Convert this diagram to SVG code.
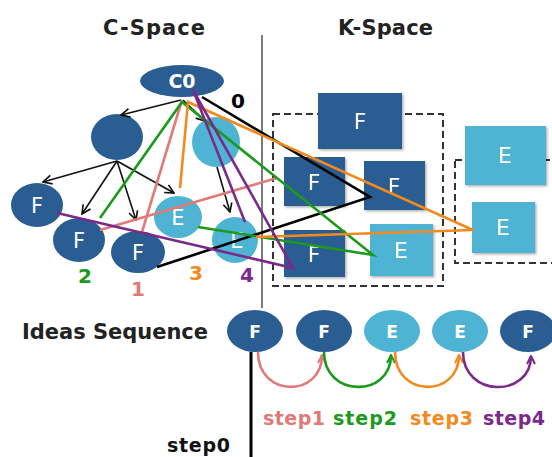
<svg xmlns="http://www.w3.org/2000/svg" width="552" height="457" viewBox="0 0 552 457">
<defs>
<style>
.dk{fill:#2a5d91}
.lt{fill:#4fb3d3}
.nt{fill:#fff;font-family:"DejaVu Sans",sans-serif;font-size:21px;text-anchor:middle}
.bt{fill:#fff;font-family:"DejaVu Sans",sans-serif;font-size:22px;text-anchor:middle}
.st{fill:#fff;font-family:"DejaVu Sans",sans-serif;font-size:17px;font-weight:bold;text-anchor:middle}
.ttl{fill:#222;font-family:"DejaVu Sans",sans-serif;font-size:21px;font-weight:bold}
.num{font-family:"DejaVu Sans",sans-serif;font-size:20px;font-weight:bold;text-anchor:middle}
.arr{stroke:#111;stroke-width:1.6;fill:none;marker-end:url(#ah)}
.pl{fill:none;stroke-width:2.6;stroke-linejoin:miter}
.dash{fill:none;stroke:#333;stroke-width:2;stroke-dasharray:7 4}
.arc{fill:none;stroke-width:2.6}
</style>
<marker id="ah" viewBox="0 0 10 10" refX="9" refY="5" markerWidth="11" markerHeight="11" markerUnits="userSpaceOnUse" orient="auto"><path d="M1,1 L9,5 L1,9" fill="none" stroke="#111" stroke-width="1.5"/></marker>
<marker id="aPk" viewBox="0 0 10 10" refX="9" refY="5" markerWidth="10" markerHeight="10" markerUnits="userSpaceOnUse" orient="auto"><path d="M1,1 L9,5 L1,9" fill="none" stroke="#e07a78" stroke-width="2"/></marker>
<marker id="aGr" viewBox="0 0 10 10" refX="9" refY="5" markerWidth="10" markerHeight="10" markerUnits="userSpaceOnUse" orient="auto"><path d="M1,1 L9,5 L1,9" fill="none" stroke="#1c9a1c" stroke-width="2"/></marker>
<marker id="aOr" viewBox="0 0 10 10" refX="9" refY="5" markerWidth="10" markerHeight="10" markerUnits="userSpaceOnUse" orient="auto"><path d="M1,1 L9,5 L1,9" fill="none" stroke="#f28a1e" stroke-width="2"/></marker>
<marker id="aPu" viewBox="0 0 10 10" refX="9" refY="5" markerWidth="10" markerHeight="10" markerUnits="userSpaceOnUse" orient="auto"><path d="M1,1 L9,5 L1,9" fill="none" stroke="#7b2a8c" stroke-width="2"/></marker>
<filter id="sh" x="-10%" y="-10%" width="130%" height="130%"><feDropShadow dx="1.5" dy="1.5" stdDeviation="1.2" flood-color="#000" flood-opacity="0.3"/></filter>
</defs>
<rect width="552" height="457" fill="#fff"/>

<g id="titles">
<text class="ttl" x="103" y="35" textLength="102">C-Space</text>
<text class="ttl" x="338" y="35" textLength="95">K-Space</text>
</g>
<line x1="262" y1="35" x2="262" y2="308" stroke="#333" stroke-width="1.3"/>

<g id="kspace-frames">
<rect class="dash" x="273" y="114" width="170" height="172"/>
<rect class="dash" x="455" y="160" width="110" height="103"/>
</g>
<g id="k-F-top" filter="url(#sh)"><rect class="dk" x="318" y="93" width="84" height="56"/><text class="bt" x="360" y="129">F</text></g>
<g id="k-F-midL" filter="url(#sh)"><rect class="dk" x="284" y="157" width="61" height="49"/><text class="bt" x="314" y="190">F</text></g>
<g id="k-F-midR" filter="url(#sh)"><rect class="dk" x="364" y="161" width="61" height="49"/><text class="bt" x="394" y="194">F</text></g>
<g id="k-F-bot" filter="url(#sh)"><rect class="dk" x="284" y="230" width="61" height="47"/><text class="bt" x="314" y="262">F</text></g>
<g id="k-E-bot" filter="url(#sh)"><rect class="lt" x="370" y="224" width="63" height="52"/><text class="bt" x="401" y="258">E</text></g>
<g id="k-E-top" filter="url(#sh)"><rect class="lt" x="465" y="126" width="81" height="59"/><text class="bt" x="505" y="163">E</text></g>
<g id="k-E-mid" filter="url(#sh)"><rect class="lt" x="472" y="202" width="63" height="51"/><text class="bt" x="503" y="235">E</text></g>

<g id="c0"><ellipse class="dk" cx="182" cy="81" rx="42" ry="16"/><text class="st" x="182" y="88" style="font-size:19px">C0</text></g>
<g id="nA"><ellipse class="dk" cx="117" cy="137" rx="26" ry="23"/></g>
<g id="nB"><ellipse class="lt" cx="216" cy="142" rx="24" ry="25"/></g>
<g id="nFa"><ellipse class="dk" cx="37" cy="205" rx="26" ry="22"/><text class="nt" x="37" y="213">F</text></g>
<g id="nFb"><ellipse class="dk" cx="79" cy="240" rx="26" ry="22"/><text class="nt" x="79" y="248">F</text></g>
<g id="nFc"><ellipse class="dk" cx="138" cy="252" rx="27" ry="21"/><text class="nt" x="138" y="260">F</text></g>
<g id="nEa"><ellipse class="lt" cx="178" cy="217" rx="24" ry="21"/><text class="nt" x="178" y="225">E</text></g>
<g id="nEb"><ellipse class="lt" cx="235" cy="240" rx="23" ry="23"/><text class="nt" x="237" y="248">E</text></g>

<g id="connectors">
<path class="arr" d="M181,100 L121,115"/>
<path class="arr" d="M183,100 L205,121"/>
<path class="arr" d="M117,161 L43,182"/>
<path class="arr" d="M117,161 L82,214"/>
<path class="arr" d="M117,161 L136,220"/>
<path class="arr" d="M117,161 L174,193"/>
<path class="arr" d="M217,167 L230,212"/>
<path class="pl" stroke="#000" d="M202,97 L370,197 L157,267"/>
<path class="pl" stroke="#e07a78" d="M142,232 L182,100"/>
<path class="pl" stroke="#e07a78" d="M100,230 L277,178"/>
<path class="pl" stroke="#1c9a1c" d="M100,218 L182,102 L373,255 L198,227"/>
<path class="pl" stroke="#f28a1e" d="M180,188 L188,102 L473,230 L256,237"/>
<path class="pl" stroke="#7b2a8c" d="M245,222 L193,90 L293,268 L57,213"/>
<path class="arc" stroke="#e07a78" marker-end="url(#aPk)" d="M258,352 C258,398 322,398 322,355"/>
<path class="arc" stroke="#1c9a1c" marker-end="url(#aGr)" d="M324,352 C324,398 391,398 391,355"/>
<path class="arc" stroke="#f28a1e" marker-end="url(#aOr)" d="M395,352 C395,398 459,398 459,355"/>
<path class="arc" stroke="#7b2a8c" marker-end="url(#aPu)" d="M463,352 C463,398 531,398 531,356"/>
</g>

<g id="numbers">
<text class="num" x="238" y="108" fill="#000">0</text>
<text class="num" x="85" y="283" fill="#1c9a1c">2</text>
<text class="num" x="138" y="296" fill="#e07a78">1</text>
<text class="num" x="196" y="280" fill="#f28a1e">3</text>
<text class="num" x="247" y="282" fill="#7b2a8c">4</text>
</g>

<text class="ttl" x="22" y="339" textLength="186">Ideas Sequence</text>
<g id="s1"><ellipse class="dk" cx="255" cy="331" rx="28" ry="21"/><text class="st" x="255" y="338">F</text></g>
<g id="s2"><ellipse class="dk" cx="324" cy="331" rx="28" ry="21"/><text class="st" x="324" y="338">F</text></g>
<g id="s3"><ellipse class="lt" cx="392" cy="331" rx="28" ry="21"/><text class="st" x="392" y="338">E</text></g>
<g id="s4"><ellipse class="lt" cx="460" cy="331" rx="28" ry="21"/><text class="st" x="460" y="338">E</text></g>
<g id="s5"><ellipse class="dk" cx="528" cy="331" rx="28" ry="21"/><text class="st" x="528" y="338">F</text></g>
<line x1="251" y1="352" x2="251" y2="457" stroke="#000" stroke-width="3"/>

<g id="steps" style="font-family:'DejaVu Sans',sans-serif;font-size:19px;font-weight:bold">
<text x="263" y="425" fill="#e07a78" textLength="62">step1</text>
<text x="333" y="425" fill="#1c9a1c" textLength="64">step2</text>
<text x="410" y="425" fill="#f28a1e" textLength="63">step3</text>
<text x="483" y="425" fill="#7b2a8c" textLength="62">step4</text>
<text x="167" y="452" fill="#111" textLength="63">step0</text>
</g>
</svg>
